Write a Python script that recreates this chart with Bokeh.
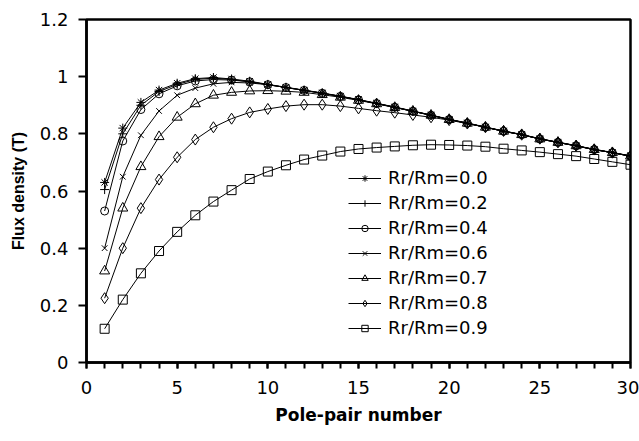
from bokeh.plotting import figure
from bokeh.models import Range1d, FixedTicker, Legend, LegendItem
from bokeh.embed import file_html
from bokeh.resources import INLINE

pole_pairs = list(range(1, 31))

s00 = [0.63, 0.82, 0.91, 0.953, 0.977, 0.993, 0.997, 0.992, 0.984, 0.973, 0.963, 0.953, 0.943, 0.932, 0.92,
       0.907, 0.894, 0.88, 0.866, 0.851, 0.838, 0.824, 0.81, 0.798, 0.783, 0.771, 0.759, 0.746, 0.735, 0.723]
s02 = [0.605, 0.80, 0.90, 0.948, 0.973, 0.99, 0.995, 0.99, 0.982, 0.972, 0.962, 0.952, 0.942, 0.931, 0.919,
       0.906, 0.893, 0.879, 0.865, 0.85, 0.837, 0.823, 0.809, 0.797, 0.782, 0.77, 0.758, 0.745, 0.734, 0.722]
s04 = [0.53, 0.775, 0.885, 0.94, 0.968, 0.985, 0.99, 0.988, 0.982, 0.972, 0.962, 0.952, 0.942, 0.931, 0.919,
       0.906, 0.893, 0.879, 0.865, 0.85, 0.837, 0.823, 0.809, 0.797, 0.782, 0.77, 0.758, 0.745, 0.734, 0.722]
s06 = [0.40, 0.65, 0.795, 0.88, 0.935, 0.96, 0.975, 0.98, 0.978, 0.972, 0.962, 0.952, 0.942, 0.931, 0.919,
       0.906, 0.893, 0.879, 0.865, 0.85, 0.837, 0.823, 0.809, 0.797, 0.782, 0.77, 0.758, 0.745, 0.734, 0.722]
s07 = [0.32, 0.54, 0.685, 0.79, 0.858, 0.905, 0.935, 0.945, 0.95, 0.951, 0.949, 0.945, 0.937, 0.928, 0.917,
       0.905, 0.892, 0.879, 0.865, 0.85, 0.837, 0.823, 0.809, 0.797, 0.782, 0.77, 0.758, 0.745, 0.734, 0.722]
s08 = [0.225, 0.40, 0.54, 0.64, 0.718, 0.78, 0.823, 0.853, 0.875, 0.887, 0.897, 0.902, 0.902, 0.897, 0.889,
       0.881, 0.874, 0.866, 0.858, 0.848, 0.836, 0.823, 0.81, 0.797, 0.783, 0.77, 0.758, 0.745, 0.734, 0.722]
s09 = [0.118, 0.22, 0.312, 0.39, 0.457, 0.515, 0.563, 0.603, 0.642, 0.668, 0.69, 0.71, 0.724, 0.738, 0.747,
       0.752, 0.756, 0.76, 0.762, 0.761, 0.759, 0.755, 0.748, 0.742, 0.736, 0.729, 0.722, 0.712, 0.702, 0.692]

series_labels = ["Rr/Rm=0.0", "Rr/Rm=0.2", "Rr/Rm=0.4", "Rr/Rm=0.6", "Rr/Rm=0.7", "Rr/Rm=0.8", "Rr/Rm=0.9"]
series_values = [s00, s02, s04, s06, s07, s08, s09]
markers = ["asterisk", "cross", "circle", "x", "triangle", "diamond", "square"]
marker_sizes = [9, 9, 8, 8, 10, 11, 9]

x_ticks = [0, 5, 10, 15, 20, 25, 30]
y_ticks = [0, 0.2, 0.4, 0.6, 0.8, 1.0, 1.2]
y_tick_labels = ["0", "0.2", "0.4", "0.6", "0.8", "1", "1.2"]

FONT = "DejaVu Sans"
TITLE_FONT_Y = "Liberation Sans"

p = figure(width=639, height=441, output_backend="svg", toolbar_location=None,
           x_range=Range1d(0, 30), y_range=Range1d(0, 1.2),
           min_border_left=86, min_border_right=9, min_border_top=19, min_border_bottom=79)
p.background_fill_color = "white"
p.border_fill_color = "white"
p.outline_line_color = "black"
p.outline_line_width = 2.5
p.xgrid.visible = False
p.ygrid.visible = False

items = []
for label, vals, mk, ms in zip(series_labels, series_values, markers, marker_sizes):
    r1 = p.line(pole_pairs, vals, line_color="black", line_width=1)
    r2 = p.scatter(pole_pairs, vals, marker=mk, size=ms, line_color="black",
                   fill_color=None, line_width=1)
    items.append(LegendItem(label=label, renderers=[r1, r2]))

legend = Legend(items=items, location=(262, 22), orientation="vertical")
legend.background_fill_alpha = 0
legend.border_line_alpha = 0
legend.padding = 0
legend.margin = 0
legend.spacing = 0
legend.glyph_width = 33
legend.glyph_height = 16
legend.label_height = 25
legend.label_standoff = 7
legend.label_text_font = FONT
legend.label_text_font_size = "18px"
legend.label_text_color = "black"
p.add_layout(legend, "center")

xa = p.xaxis[0]
xa.ticker = FixedTicker(ticks=x_ticks, minor_ticks=pole_pairs + [0])
xa.axis_label = "Pole-pair number"
xa.axis_label_text_font = FONT
xa.axis_label_text_font_style = "bold"
xa.axis_label_text_font_size = "17px"
xa.axis_label_text_color = "black"
xa.axis_label_standoff = 8
xa.major_label_text_font = FONT
xa.major_label_text_font_size = "18px"
xa.major_label_text_color = "black"
xa.major_label_standoff = 12
xa.axis_line_width = 2.5
xa.axis_line_color = "black"
xa.major_tick_in = 0
xa.major_tick_out = 6
xa.minor_tick_in = 0
xa.minor_tick_out = 6
xa.major_tick_line_width = 2
xa.minor_tick_line_width = 2
xa.major_tick_line_color = "black"
xa.minor_tick_line_color = "black"

ya = p.yaxis[0]
ya.ticker = FixedTicker(ticks=y_ticks)
ya.major_label_overrides = {v: s for v, s in zip(y_ticks, y_tick_labels)}
ya.axis_label = "Flux density (T)"
ya.axis_label_text_font = TITLE_FONT_Y
ya.axis_label_text_font_style = "bold"
ya.axis_label_text_font_size = "16px"
ya.axis_label_text_color = "black"
ya.axis_label_standoff = 10
ya.major_label_text_font = FONT
ya.major_label_text_font_size = "18px"
ya.major_label_text_color = "black"
ya.major_label_standoff = 10
ya.axis_line_width = 2.5
ya.axis_line_color = "black"
ya.major_tick_in = 0
ya.major_tick_out = 8
ya.minor_tick_line_color = None
ya.major_tick_line_width = 2
ya.major_tick_line_color = "black"

open("out.html", "w").write(file_html(p, INLINE))
